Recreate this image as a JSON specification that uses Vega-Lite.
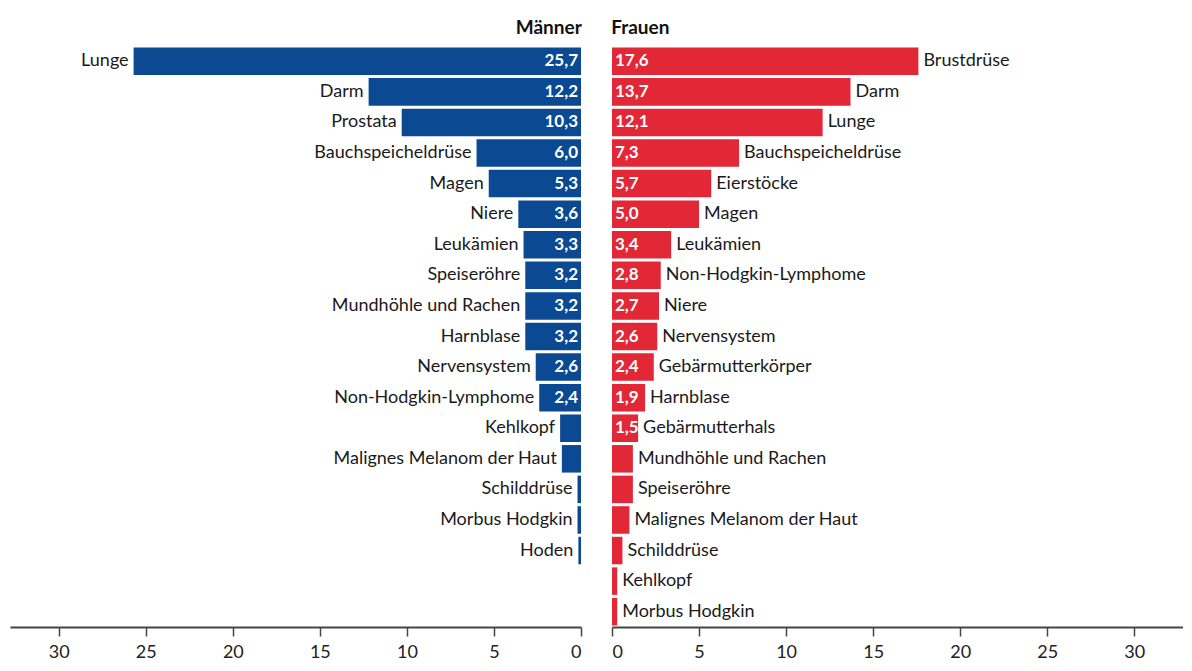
{
  "$schema": "https://vega.github.io/schema/vega-lite/v6.json",
  "padding": {"left": 10, "top": 19, "right": 0, "bottom": 0},
  "autosize": {"type": "pad"},
  "spacing": 29,
  "config": {
    "view": {"stroke": null},
    "font": "Lato",
    "locale": {"number": {"decimal": ",", "thousands": ".", "grouping": [3], "currency": ["", " €"]}},
    "title": {"fontSize": 19, "fontWeight": "bold", "color": "#111111", "font": "Lato", "offset": 8},
    "axis": {"domainColor": "#444444", "domainWidth": 2, "tickColor": "#444444", "tickWidth": 1.5, "tickSize": 9, "labelFontSize": 18, "labelColor": "#222222", "labelPadding": 7, "grid": false}
  },
  "datasets": {
    "rows": [
      {"sex": "M", "rank": 1, "site": "Lunge", "value": 25.7},
      {"sex": "M", "rank": 2, "site": "Darm", "value": 12.2},
      {"sex": "M", "rank": 3, "site": "Prostata", "value": 10.3},
      {"sex": "M", "rank": 4, "site": "Bauchspeicheldrüse", "value": 6.0},
      {"sex": "M", "rank": 5, "site": "Magen", "value": 5.3},
      {"sex": "M", "rank": 6, "site": "Niere", "value": 3.6},
      {"sex": "M", "rank": 7, "site": "Leukämien", "value": 3.3},
      {"sex": "M", "rank": 8, "site": "Speiseröhre", "value": 3.2},
      {"sex": "M", "rank": 9, "site": "Mundhöhle und Rachen", "value": 3.2},
      {"sex": "M", "rank": 10, "site": "Harnblase", "value": 3.2},
      {"sex": "M", "rank": 11, "site": "Nervensystem", "value": 2.6},
      {"sex": "M", "rank": 12, "site": "Non-Hodgkin-Lymphome", "value": 2.4},
      {"sex": "M", "rank": 13, "site": "Kehlkopf", "value": 1.2},
      {"sex": "M", "rank": 14, "site": "Malignes Melanom der Haut", "value": 1.1},
      {"sex": "M", "rank": 15, "site": "Schilddrüse", "value": 0.2},
      {"sex": "M", "rank": 16, "site": "Morbus Hodgkin", "value": 0.2},
      {"sex": "M", "rank": 17, "site": "Hoden", "value": 0.15},
      {"sex": "F", "rank": 1, "site": "Brustdrüse", "value": 17.6},
      {"sex": "F", "rank": 2, "site": "Darm", "value": 13.7},
      {"sex": "F", "rank": 3, "site": "Lunge", "value": 12.1},
      {"sex": "F", "rank": 4, "site": "Bauchspeicheldrüse", "value": 7.3},
      {"sex": "F", "rank": 5, "site": "Eierstöcke", "value": 5.7},
      {"sex": "F", "rank": 6, "site": "Magen", "value": 5.0},
      {"sex": "F", "rank": 7, "site": "Leukämien", "value": 3.4},
      {"sex": "F", "rank": 8, "site": "Non-Hodgkin-Lymphome", "value": 2.8},
      {"sex": "F", "rank": 9, "site": "Niere", "value": 2.7},
      {"sex": "F", "rank": 10, "site": "Nervensystem", "value": 2.6},
      {"sex": "F", "rank": 11, "site": "Gebärmutterkörper", "value": 2.4},
      {"sex": "F", "rank": 12, "site": "Harnblase", "value": 1.9},
      {"sex": "F", "rank": 13, "site": "Gebärmutterhals", "value": 1.5},
      {"sex": "F", "rank": 14, "site": "Mundhöhle und Rachen", "value": 1.2},
      {"sex": "F", "rank": 15, "site": "Speiseröhre", "value": 1.2},
      {"sex": "F", "rank": 16, "site": "Malignes Melanom der Haut", "value": 1.0},
      {"sex": "F", "rank": 17, "site": "Schilddrüse", "value": 0.6},
      {"sex": "F", "rank": 18, "site": "Kehlkopf", "value": 0.3},
      {"sex": "F", "rank": 19, "site": "Morbus Hodgkin", "value": 0.3}
    ]
  },
  "hconcat": [
    {
      "title": {"text": "Männer", "anchor": "end"},
      "width": 571,
      "height": 581,
      "data": {"name": "rows"},
      "transform": [{"filter": "datum.sex === 'M'"}],
      "encoding": {
        "y": {"field": "rank", "type": "ordinal", "scale": {"domain": [1,2,3,4,5,6,7,8,9,10,11,12,13,14,15,16,17,18,19], "paddingInner": 0.1, "paddingOuter": 0.05}, "axis": null}
      },
      "layer": [
        {
          "mark": {"type": "bar", "color": "#0b4a93"},
          "encoding": {
            "x": {"field": "value", "type": "quantitative", "scale": {"domain": [0, 32.8], "reverse": true, "nice": false}, "axis": {"values": [0,5,10,15,20,25,30], "title": null}}
          }
        },
        {
          "mark": {"type": "text", "align": "right", "dx": -5, "fontSize": 18, "color": "#1a1a1a", "baseline": "middle"},
          "encoding": {
            "x": {"field": "value", "type": "quantitative"},
            "text": {"field": "site"}
          }
        },
        {
          "transform": [{"filter": "datum.value >= 1.4"}],
          "mark": {"type": "text", "align": "right", "dx": -3, "fontSize": 17, "fontWeight": "bold", "color": "white", "baseline": "middle"},
          "encoding": {
            "x": {"datum": 0, "type": "quantitative"},
            "text": {"field": "value", "type": "quantitative", "format": ".1f"}
          }
        }
      ]
    },
    {
      "title": {"text": "Frauen", "anchor": "start"},
      "width": 571,
      "height": 581,
      "data": {"name": "rows"},
      "transform": [{"filter": "datum.sex === 'F'"}],
      "encoding": {
        "y": {"field": "rank", "type": "ordinal", "scale": {"domain": [1,2,3,4,5,6,7,8,9,10,11,12,13,14,15,16,17,18,19], "paddingInner": 0.1, "paddingOuter": 0.05}, "axis": null}
      },
      "layer": [
        {
          "mark": {"type": "bar", "color": "#e22737"},
          "encoding": {
            "x": {"field": "value", "type": "quantitative", "scale": {"domain": [0, 32.8], "nice": false}, "axis": {"values": [0,5,10,15,20,25,30], "title": null}}
          }
        },
        {
          "mark": {"type": "text", "align": "left", "dx": 5, "fontSize": 18, "color": "#1a1a1a", "baseline": "middle"},
          "encoding": {
            "x": {"field": "value", "type": "quantitative"},
            "text": {"field": "site"}
          }
        },
        {
          "transform": [{"filter": "datum.value >= 1.4"}],
          "mark": {"type": "text", "align": "left", "dx": 3, "fontSize": 17, "fontWeight": "bold", "color": "white", "baseline": "middle"},
          "encoding": {
            "x": {"datum": 0, "type": "quantitative"},
            "text": {"field": "value", "type": "quantitative", "format": ".1f"}
          }
        }
      ]
    }
  ]
}
